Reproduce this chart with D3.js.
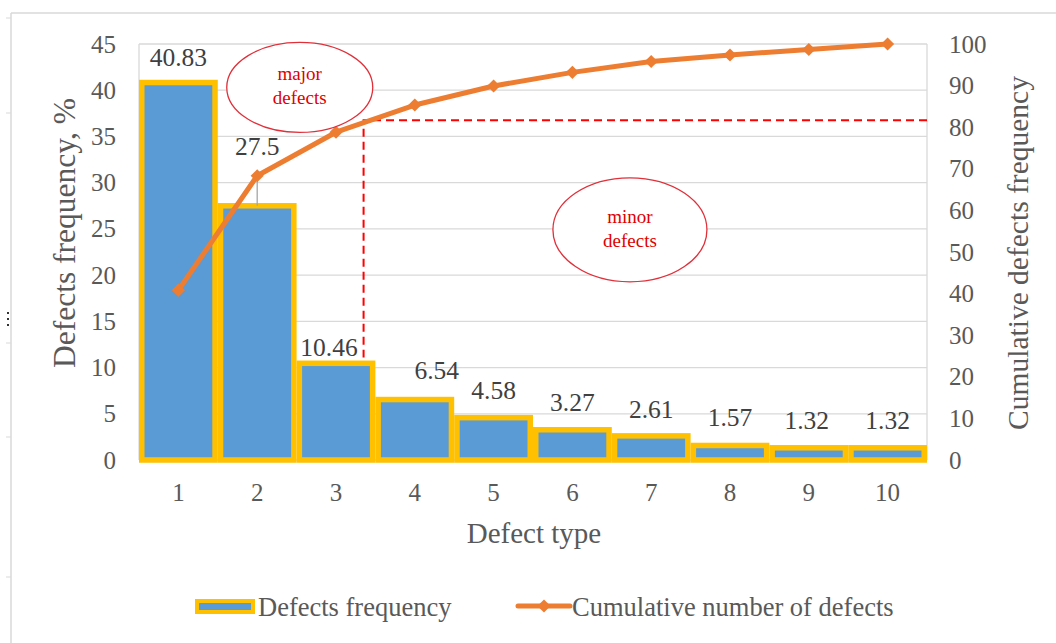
<!DOCTYPE html>
<html>
<head>
<meta charset="utf-8">
<script src="https://cdn.jsdelivr.net/npm/d3@7"></script>
<style>
  body { margin: 0; background: #fff; }
  svg { display: block; font-family: "Liberation Serif", "Times New Roman", serif; }
</style>
</head>
<body>
<div id="chart"></div>
<script>
// data
var defectTypes = ["1", "2", "3", "4", "5", "6", "7", "8", "9", "10"];
var frequency = [40.83, 27.5, 10.46, 6.54, 4.58, 3.27, 2.61, 1.57, 1.32, 1.32];
var cumulative = [40.83, 68.33, 78.79, 85.33, 89.91, 93.18, 95.79, 97.36, 98.68, 100];
var leftTicks = [0, 5, 10, 15, 20, 25, 30, 35, 40, 45];
var rightTicks = [0, 10, 20, 30, 40, 50, 60, 70, 80, 90, 100];

// label nudges (dx, dy in px) - the original labels are not evenly placed
var labelShift = [[0, 2], [0, -32], [-7, 12], [22, -2], [0, 0], [0, 0], [0, 1], [0, 0], [-2, 0], [0, 0]];

var W = 1056, H = 643;
var pL = 139, pR = 927, pT = 44, pB = 460;

var svg = d3.select("#chart").append("svg")
    .attr("width", W).attr("height", H);

// outer frame (part of the screenshot)
svg.append("line").attr("x1", 11).attr("x2", 11).attr("y1", 13).attr("y2", H)
    .style("stroke", "#d9d9d9").style("stroke-width", 1.5);
svg.append("line").attr("x1", 11).attr("x2", W).attr("y1", 13).attr("y2", 13)
    .style("stroke", "#d9d9d9").style("stroke-width", 1.5);
[18, 113, 343, 437, 577].forEach(function (y) {
    svg.append("line").attr("x1", 6).attr("x2", 11).attr("y1", y).attr("y2", y)
        .style("stroke", "#d9d9d9").style("stroke-width", 1);
});
[312, 318, 324].forEach(function (y) {
    svg.append("rect").attr("x", 7).attr("y", y).attr("width", 2).attr("height", 2).style("fill", "#333");
});

var x = d3.scaleBand().domain(defectTypes).range([pL, pR])
    .paddingInner(0.07).paddingOuter(0.035);
var yL = d3.scaleLinear().domain([0, 45]).range([pB, pT]);
var yR = d3.scaleLinear().domain([0, 100]).range([pB, pT]);
// fractional category position, for the hand-drawn annotations
var xc = d3.scaleLinear().domain([1, 10])
    .range([x("1") + x.bandwidth() / 2, x("10") + x.bandwidth() / 2]);

// gridlines
svg.append("g").selectAll("line").data(leftTicks).join("line")
    .attr("x1", pL).attr("x2", pR)
    .attr("y1", function (d) { return yL(d); }).attr("y2", function (d) { return yL(d); })
    .style("stroke", "#d9d9d9").style("stroke-width", 1.3);
svg.append("line").attr("x1", pL).attr("x2", pL).attr("y1", pT).attr("y2", pB)
    .style("stroke", "#d9d9d9").style("stroke-width", 1.3);
svg.append("line").attr("x1", pR).attr("x2", pR).attr("y1", pT).attr("y2", pB)
    .style("stroke", "#d9d9d9").style("stroke-width", 1.3);

// axes
var axL = svg.append("g").attr("transform", "translate(" + (pL - 23) + ",0)")
    .call(d3.axisLeft(yL).tickValues(leftTicks).tickSize(0).tickPadding(0));
var axR = svg.append("g").attr("transform", "translate(" + (pR + 22) + ",0)")
    .call(d3.axisRight(yR).tickValues(rightTicks).tickSize(0).tickPadding(0));
var axB = svg.append("g").attr("transform", "translate(0," + (pB + 23) + ")")
    .call(d3.axisBottom(x).tickSize(0).tickPadding(0));
[axL, axR, axB].forEach(function (a) {
    a.select(".domain").remove();
    a.selectAll("text").style("font-family", "Liberation Serif").style("font-size", "25px").style("fill", "#595959");
});
axB.selectAll("text").attr("dy", "0.71em");

// bars
svg.append("g").selectAll("rect").data(frequency).join("rect")
    .attr("x", function (d, i) { return x(defectTypes[i]); })
    .attr("width", x.bandwidth())
    .attr("y", function (d) { return yL(d); })
    .attr("height", function (d) { return pB - yL(d); })
    .style("fill", "#5B9BD5")
    .style("stroke", "#FFC000")
    .style("stroke-width", 5.5);

// annotation: pareto cut-off
var cutY = yR(81.7), cutX = xc(3.35);
svg.append("path")
    .attr("d", "M" + pR + "," + cutY + "H" + cutX + "V" + yL(11.1))
    .style("fill", "none").style("stroke", "#FF0000").style("stroke-width", 2)
    .style("stroke-dasharray", "8,5");

// leader line for 27.5
svg.append("line")
    .attr("x1", xc(2)).attr("x2", xc(2))
    .attr("y1", yL(27.5) - 34).attr("y2", yL(27.5))
    .style("stroke", "#a6a6a6").style("stroke-width", 1.3);

// cumulative line
var line = d3.line()
    .x(function (d, i) { return x(defectTypes[i]) + x.bandwidth() / 2; })
    .y(function (d) { return yR(d); });
svg.append("path").datum(cumulative).attr("d", line)
    .style("fill", "none").style("stroke", "#ED7D31").style("stroke-width", 5)
    .style("stroke-linejoin", "round");
var diamond = d3.symbol().type(d3.symbolDiamond2).size(110);
svg.append("g").selectAll("path").data(cumulative).join("path")
    .attr("d", diamond)
    .attr("transform", function (d, i) {
        return "translate(" + (x(defectTypes[i]) + x.bandwidth() / 2) + "," + yR(d) + ")";
    })
    .style("fill", "#ED7D31");

// data labels
svg.append("g").selectAll("text").data(frequency).join("text")
    .attr("x", function (d, i) { return x(defectTypes[i]) + x.bandwidth() / 2 + labelShift[i][0]; })
    .attr("y", function (d, i) { return yL(d) - 19 + labelShift[i][1]; })
    .attr("text-anchor", "middle")
    .style("font-size", "25.5px").style("fill", "#404040")
    .text(function (d) { return d; });

// ellipses
var notes = [
    {cx: xc(2.54), cy: yL(40.3), rx: 73, ry: 45, lines: ["major", "defects"]},
    {cx: xc(6.73), cy: yL(24.9), rx: 77, ry: 52, lines: ["minor", "defects"]}
];
notes.forEach(function (n) {
    svg.append("ellipse").attr("cx", n.cx).attr("cy", n.cy).attr("rx", n.rx).attr("ry", n.ry)
        .style("fill", "#fff").style("stroke", "#E0303A").style("stroke-width", 1.3);
    n.lines.forEach(function (t, k) {
        svg.append("text").attr("x", n.cx).attr("y", n.cy - 7 + k * 24)
            .attr("text-anchor", "middle").style("font-size", "19px").style("fill", "#E00000")
            .text(t);
    });
});

// axis titles
svg.append("text").attr("transform", "translate(75,233) rotate(-90)")
    .attr("text-anchor", "middle").style("font-size", "31.5px").style("fill", "#595959")
    .text("Defects frequency, %");
svg.append("text").attr("transform", "translate(1028,253) rotate(-90)")
    .attr("text-anchor", "middle").style("font-size", "29.5px").style("fill", "#595959")
    .text("Cumulative defects frequency");
svg.append("text").attr("x", 534).attr("y", 543)
    .attr("text-anchor", "middle").style("font-size", "29px").style("fill", "#595959")
    .text("Defect type");

// legend
var lg = svg.append("g");
lg.append("rect").attr("x", 197).attr("y", 601).attr("width", 56).attr("height", 11)
    .style("fill", "#5B9BD5").style("stroke", "#FFC000").style("stroke-width", 4);
lg.append("text").attr("x", 258).attr("y", 616).style("font-size", "26.5px").style("fill", "#595959")
    .text("Defects frequency");
lg.append("line").attr("x1", 518).attr("x2", 570).attr("y1", 606).attr("y2", 606)
    .style("stroke", "#ED7D31").style("stroke-width", 5).style("stroke-linecap", "round");
lg.append("path").attr("d", diamond).attr("transform", "translate(544,606)").style("fill", "#ED7D31");
lg.append("text").attr("x", 572).attr("y", 616).style("font-size", "26.5px").style("fill", "#595959")
    .text("Cumulative number of defects");
</script>
</body>
</html>
